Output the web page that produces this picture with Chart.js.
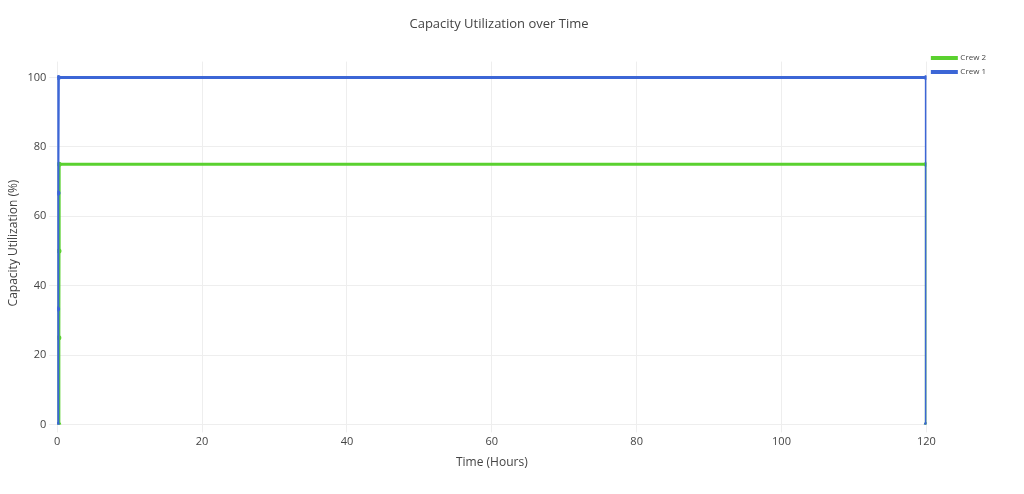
<!DOCTYPE html>
<html><head><meta charset="utf-8">
<script src="https://cdn.jsdelivr.net/npm/chart.js@4"></script>
<style>html,body{margin:0;background:#fff}#w{width:1024px;height:494px}</style>
</head><body><div id="w"><canvas id="c"></canvas></div>
<script>
const crew1X = [0, 0.05, 0.1, 0.15, 120, 120];
const crew1Y = [0, 33.3, 66.7, 100, 100, 0];
const crew2X = [0.2, 0.22, 0.24, 0.26, 120, 120];
const crew2Y = [0, 25, 50, 75, 75, 0];
const xTicks = [0, 20, 40, 60, 80, 100, 120];
const yTicks = [0, 20, 40, 60, 80, 100];
const pts = (xs, ys) => xs.map((x, i) => ({x, y: ys[i]}));
new Chart(document.getElementById('c'), {
  type: 'line',
  data: { datasets: [
    { label: 'Crew 1', data: pts(crew1X, crew1Y), borderColor: '#3c66d6', backgroundColor: '#3c66d6', borderWidth: 3, pointRadius: 1 },
    { label: 'Crew 2', data: pts(crew2X, crew2Y), borderColor: '#5ad12f', backgroundColor: '#5ad12f', borderWidth: 3, pointRadius: 1 }
  ]},
  options: {
    responsive: true, maintainAspectRatio: false, animation: false,
    layout: { padding: { left: 2, right: 28, top: 16, bottom: 20 } },
    plugins: {
      title: { display: true, text: 'Capacity Utilization over Time', color: '#444', font: { family: 'Open Sans', size: 13, weight: 'normal' }, padding: { bottom: 30 } },
      legend: { position: 'right', align: 'start', reverse: true,
        title: { display: true, text: ' ', font: { size: 20 }, padding: 4 },
        labels: { boxWidth: 24, boxHeight: 1, font: { family: 'Open Sans', size: 8 }, color: '#444', padding: 6 } }
    },
    scales: {
      x: { type: 'linear', min: 0, max: 120, afterBuildTicks: a => { a.ticks = xTicks.map(v => ({value: v})); },
        title: { display: true, text: 'Time (Hours)', color: '#444', font: { family: 'Open Sans', size: 12 } },
        grid: { color: '#eee' }, border: { display: false }, ticks: { color: '#444', font: { family: 'Open Sans', size: 11 } } },
      y: { min: 0, max: 104.6, afterBuildTicks: a => { a.ticks = yTicks.map(v => ({value: v})); },
        title: { display: true, text: 'Capacity Utilization (%)', color: '#444', font: { family: 'Open Sans', size: 12 } },
        grid: { color: '#eee' }, border: { display: false }, ticks: { color: '#444', font: { family: 'Open Sans', size: 11 } } }
    }
  }
});
</script></body></html>
